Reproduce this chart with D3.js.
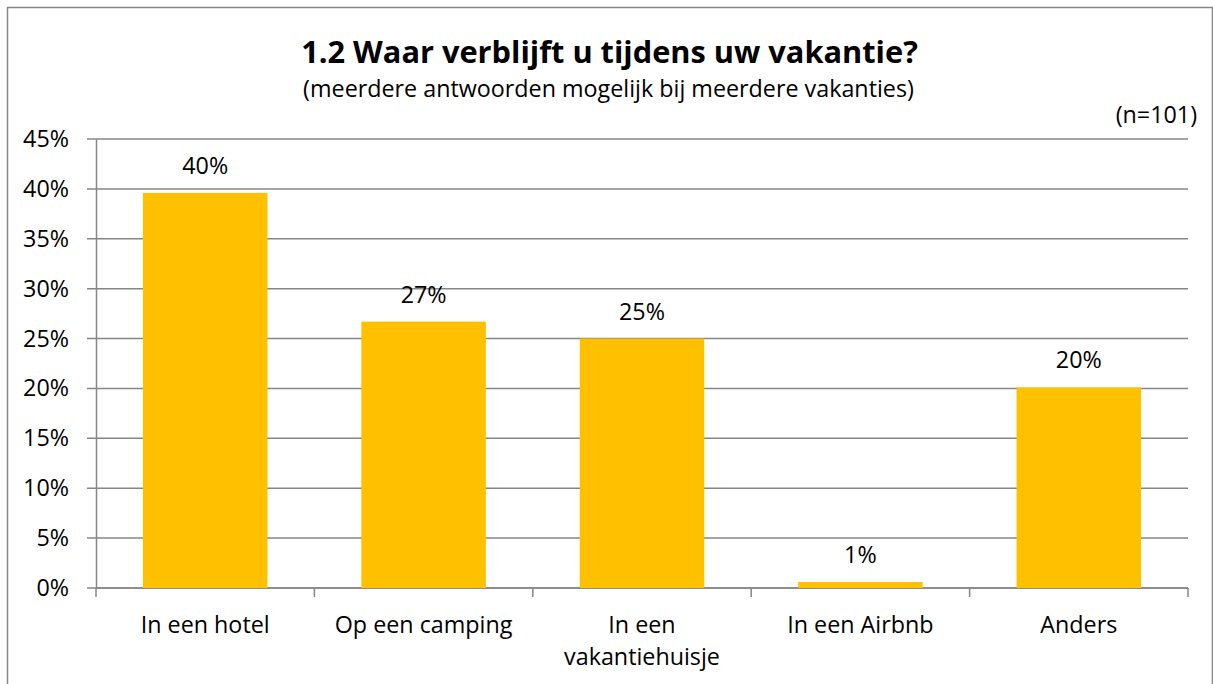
<!DOCTYPE html>
<html><head><meta charset="utf-8">
<script src="https://cdn.jsdelivr.net/npm/d3@7"></script>
<style>body{margin:0;background:#fff}svg{display:block}text{font-family:"Open Sans",sans-serif;fill:#000}</style>
</head><body><svg id="c" width="1213" height="684"></svg>
<script>
const categories = ["In een hotel","Op een camping","In een vakantiehuisje","In een Airbnb","Anders"];
const categoryLines = [["In een hotel"],["Op een camping"],["In een","vakantiehuisje"],["In een Airbnb"],["Anders"]];
const values = [39.6, 26.7, 25.0, 0.6, 20.1];
const valueLabels = ["40%","27%","25%","1%","20%"];
const yTicks = [0,5,10,15,20,25,30,35,40,45];
const title = "1.2 Waar verblijft u tijdens uw vakantie?";
const subtitle = "(meerdere antwoorden mogelijk bij meerdere vakanties)";
const note = "(n=101)";

const svg = d3.select("#c");

// measure helper: font size so a string reaches a target width
function fitSize(str, target, weight){
  const t = svg.append("text").style("font-size","100px").style("font-weight",weight||"normal").text(str);
  const w = t.node().getComputedTextLength(); t.remove();
  return 100*target/w;
}
const FS = fitSize(subtitle, 611) + "px";
const FT = fitSize(title, 617, "bold") + "px";

svg.append("rect").attr("x",7.5).attr("y",7.5).attr("width",1205).attr("height",690)
  .attr("fill","#fff").attr("stroke","#868686").attr("stroke-width",1.5);

const pL=96, pR=1188, pT=139, pB=588;
const x = d3.scaleBand().domain(categories).range([pL,pR]).paddingInner(0.43).paddingOuter(0.215);
const y = d3.scaleLinear().domain([0,45]).range([pB,pT]);

svg.append("g").selectAll("line").data(yTicks).join("line")
  .attr("x1",pL-9).attr("x2",pR).attr("y1",d=>y(d)).attr("y2",d=>y(d))
  .attr("stroke","#868686").attr("stroke-width",1.5);

const yAxis = d3.axisLeft(y).tickValues(yTicks).tickFormat(d=>d+"%").tickSize(0).tickPadding(27);
const ga = svg.append("g").attr("transform",`translate(${pL},0)`).call(yAxis);
ga.select(".domain").attr("stroke","#868686").attr("stroke-width",1.5);
ga.selectAll("text").style("font-size",FS).style("font-family","Open Sans").attr("fill","#000");

const xb = d3.scaleLinear().domain([0,5]).range([pL,pR]);
svg.append("line").attr("x1",pL).attr("x2",pR).attr("y1",pB).attr("y2",pB)
  .attr("stroke","#868686").attr("stroke-width",1.5);
svg.append("g").selectAll("line").data(d3.range(6)).join("line")
  .attr("x1",d=>xb(d)).attr("x2",d=>xb(d)).attr("y1",pB).attr("y2",pB+9)
  .attr("stroke","#868686").attr("stroke-width",1.5);

svg.append("g").selectAll("rect").data(values).join("rect")
  .attr("x",(d,i)=>x(categories[i])).attr("width",x.bandwidth())
  .attr("y",d=>y(d)).attr("height",d=>pB-y(d)).attr("fill","#FFC000");

svg.append("g").selectAll("text").data(values).join("text")
  .attr("x",(d,i)=>x(categories[i])+x.bandwidth()/2).attr("y",d=>y(d)-19)
  .attr("text-anchor","middle").style("font-size",FS).text((d,i)=>valueLabels[i]);

const cl = svg.append("g").selectAll("text").data(categoryLines).join("text")
  .attr("x",(d,i)=>x(categories[i])+x.bandwidth()/2).attr("y",633)
  .attr("text-anchor","middle").style("font-size",FS);
cl.each(function(lines){
  const t=d3.select(this);
  lines.forEach((l,k)=>t.append("tspan").attr("x",t.attr("x")).attr("dy",k?32:0).text(l));
});

svg.append("text").attr("x",609.5).attr("y",63).attr("text-anchor","middle")
  .style("font-size",FT).style("font-weight","bold").text(title);
svg.append("text").attr("x",608.5).attr("y",97).attr("text-anchor","middle")
  .style("font-size",FS).text(subtitle);
svg.append("text").attr("x",1197).attr("y",123).attr("text-anchor","end")
  .style("font-size",FS).text(note);
</script></body></html>
